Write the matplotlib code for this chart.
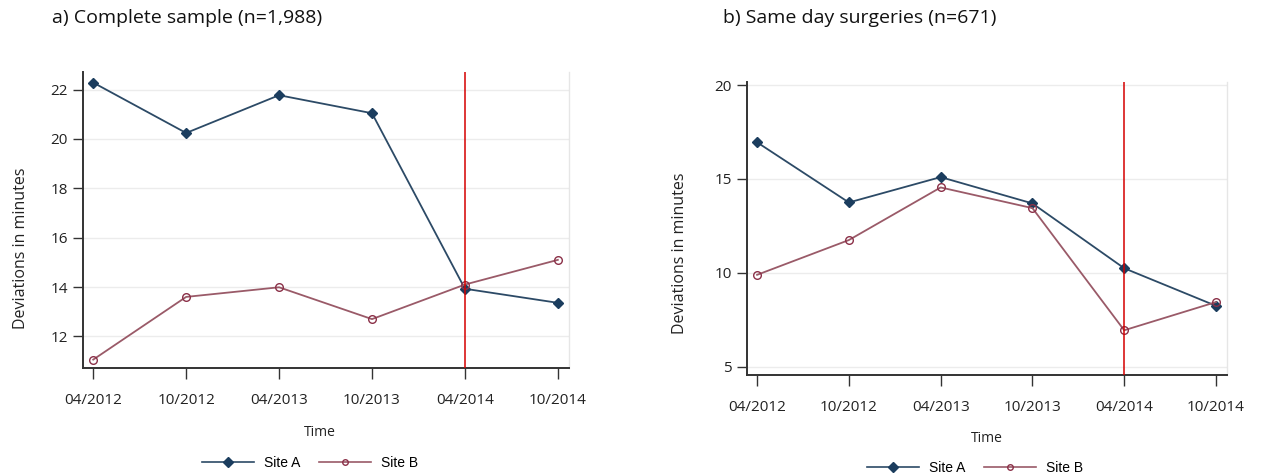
import matplotlib
matplotlib.use("Agg")
import matplotlib.pyplot as plt
from matplotlib.lines import Line2D

periods = ["04/2012", "10/2012", "04/2013", "10/2013", "04/2014", "10/2014"]
a_site_a = [22.28, 20.24, 21.77, 21.04, 13.93, 13.36]
a_site_b = [11.06, 13.60, 13.99, 12.70, 14.10, 15.10]
b_site_a = [16.95, 13.75, 15.10, 13.70, 10.25, 8.25]
b_site_b = [9.90, 11.75, 14.55, 13.45, 6.95, 8.45]
a_yticks = [12, 14, 16, 18, 20, 22]
b_yticks = [5, 10, 15, 20]
intervention = "04/2014"

COL_A = "#2c4a66"
MK_A = "#1b3d5e"
COL_B = "#9a5a68"
MK_B = "#8b3048"

W, H = 1269, 475
fig = plt.figure(figsize=(W / 100, H / 100), dpi=100)
plt.rcParams['font.family'] = ['Open Sans', 'DejaVu Sans']


def fx(px):
    return px / W


def fy(py):
    return 1 - py / H


def panel(box, sa, sb, yticks, ylim, title, title_x, ylabel_xy, time_xy, leg_xy):
    x0, y0, x1, y1 = box
    ax = fig.add_axes([fx(x0), fy(y1), (x1 - x0) / W, (y1 - y0) / H])
    x = list(range(len(periods)))
    ax.plot(x, sa, color=COL_A, lw=1.3, marker="D", ms=5.5, mfc=MK_A, mec=MK_A, zorder=3)
    ax.plot(x, sb, color=COL_B, lw=1.3, marker="o", ms=5.5, mfc="none", mec=MK_B, mew=1.0, zorder=3)
    ax.axvline(periods.index(intervention), color="#d40000", lw=1.1, zorder=4)
    ax.set_xlim(-0.11, 5.12)
    ax.set_ylim(*ylim)
    ax.set_xticks(x)
    ax.set_xticklabels(periods, fontsize=11, color="#222222")
    ax.set_yticks(yticks)
    ax.set_yticklabels([str(t) for t in yticks], fontsize=11, color="#222222")
    for t in yticks:
        ax.axhline(t, color="#ececec", lw=1.0, zorder=1)
    for s in ["left", "bottom"]:
        ax.spines[s].set_color("#333333")
        ax.spines[s].set_linewidth(1.4)
    ax.spines["top"].set_visible(False)
    ax.spines["right"].set_color("#e6e6e6")
    ax.spines["right"].set_linewidth(1.0)
    ax.tick_params(axis="x", length=8, width=1.0, color="#333333", pad=10)
    ax.tick_params(axis="y", length=7, width=1.0, color="#333333", pad=4)
    fig.text(fx(title_x), fy(18), title, fontsize=14, ha="left", va="center", color="#111111")
    fig.text(fx(ylabel_xy[0]), fy(ylabel_xy[1]), "Deviations in minutes", fontsize=11.5,
             rotation=90, ha="center", va="center", color="#222222")
    fig.text(fx(time_xy[0]), fy(time_xy[1]), "Time", fontsize=10, ha="center", va="center",
             color="#222222")
    handles = [
        Line2D([], [], color=COL_A, lw=1.2, marker="D", ms=5.5, mfc=MK_A, mec=MK_A),
        Line2D([], [], color=COL_B, lw=1.2, marker="o", ms=4, mfc="none", mec=MK_B),
    ]
    fig.legend(handles, ["Site A", "Site B"], loc="center", ncol=2, frameon=False,
               bbox_to_anchor=(fx(leg_xy[0]), fy(leg_xy[1])),
               prop={"family": "Liberation Sans", "size": 10},
               handlelength=3.75, columnspacing=1.4, handletextpad=0.7, borderpad=0)
    return ax


panel((83, 72, 569, 368), a_site_a, a_site_b, a_yticks, (10.72, 22.71),
      "a) Complete sample (n=1,988)", 52, (21, 248), (320, 433), (310, 463))
panel((747, 82, 1227, 375), b_site_a, b_site_b, b_yticks, (4.57, 20.16),
      "b) Same day surgeries (n=671)", 723, (680, 253), (987, 439), (975, 468))

fig.savefig("out.png", dpi=100)
